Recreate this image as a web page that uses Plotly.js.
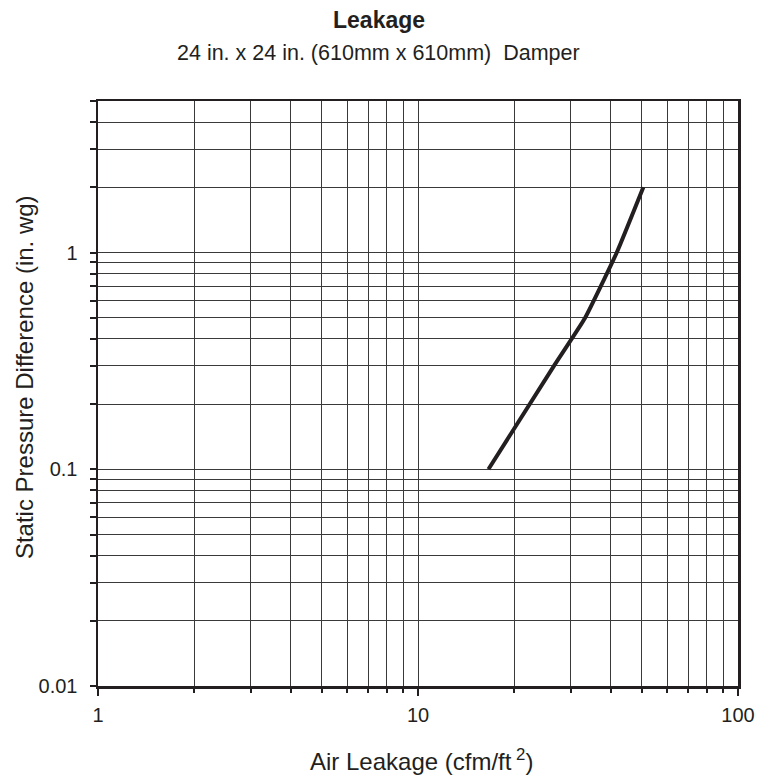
<!DOCTYPE html>
<html>
<head>
<meta charset="utf-8">
<script src="https://cdn.plot.ly/plotly-3.0.1.min.js"></script>
<style>html,body{margin:0;padding:0;background:#fff;}#chart{width:758px;height:781px;}</style>
</head>
<body>
<div id="chart"></div>
<script>
var leakage = [16.6, 26.6, 33.3, 41.8, 50.6];
var pressure = [0.1, 0.3, 0.5, 1.0, 2.0];

var xGrid = [1,2,3,4,5,6,7,8,9,10,20,30,40,50,60,70,80,90,100];
var xMajor = [1,10,100];
var xMajorText = ['1','10','100'];
var yGrid = [0.01,0.02,0.03,0.04,0.05,0.06,0.07,0.08,0.09,0.1,0.2,0.3,0.4,0.5,0.6,0.7,0.8,0.9,1,2,3,4,5];
var yLabels = {0.01:'0.01', 0.1:'0.1', 1:'1'};

var fontFam = 'Liberation Sans, Arial, sans-serif';
var ink = '#231f20';

var trace = {
  x: leakage, y: pressure, type: 'scatter', mode: 'lines',
  line: {color: ink, width: 4, shape: 'spline', smoothing: 0.4},
  showlegend: false, hoverinfo: 'skip'
};
var dummy = {x: [1,100], y: [0.01,0.01], xaxis: 'x2', yaxis: 'y', mode: 'markers',
  marker: {opacity: 0}, showlegend: false, hoverinfo: 'skip'};

var layout = {
  width: 758, height: 781,
  margin: {l: 98, r: 20, t: 101, b: 95},
  paper_bgcolor: '#fff', plot_bgcolor: '#fff',
  font: {family: fontFam, color: ink},
  xaxis: {
    type: 'log', range: [0, 2],
    tickvals: xGrid, ticktext: xGrid.map(function(){return '';}),
    ticks: 'outside', ticklen: 4, tickwidth: 2, tickcolor: ink,
    showgrid: true, gridcolor: '#3a3a3a', gridwidth: 1,
    showline: true, linecolor: ink, linewidth: 2.5, mirror: true,
    zeroline: false
  },
  xaxis2: {
    type: 'log', range: [0, 2], overlaying: 'x', side: 'bottom',
    tickvals: xMajor, ticktext: xMajorText,
    ticks: 'outside', ticklen: 9, tickwidth: 2, tickcolor: ink,
    ticklabelstandoff: 2,
    tickfont: {size: 20, family: fontFam, color: ink},
    showgrid: false, showline: false, zeroline: false
  },
  yaxis: {
    type: 'log', range: [-2, Math.log10(5)],
    tickvals: yGrid, ticktext: yGrid.map(function(v){return yLabels[v] || '';}),
    ticks: 'outside', ticklen: 6, tickwidth: 2, tickcolor: ink,
    ticklabelstandoff: 8,
    tickfont: {size: 20, family: fontFam, color: ink},
    showgrid: true, gridcolor: '#3a3a3a', gridwidth: 1,
    showline: true, linecolor: ink, linewidth: 2.5, mirror: true,
    zeroline: false
  },
  annotations: [
    {text: '<b>Leakage</b>', xref: 'paper', yref: 'paper', x: 0.439, y: 1, xanchor: 'center', yanchor: 'middle',
     yshift: 81, showarrow: false, font: {size: 23, family: fontFam, color: ink}},
    {text: '24 in. x 24 in. (610mm x 610mm)  Damper', xref: 'paper', yref: 'paper', x: 0.439, y: 1, xanchor: 'center', yanchor: 'middle',
     yshift: 48, showarrow: false, font: {size: 21.5, family: fontFam, color: ink}},
    {text: 'Air Leakage (cfm/ft<sup> 2</sup>)', xref: 'paper', yref: 'paper', x: 0.5, y: 0, xanchor: 'center', yanchor: 'middle',
     xshift: 3, yshift: -74, showarrow: false, font: {size: 24, family: fontFam, color: ink}},
    {text: 'Static Pressure Difference (in. wg)', xref: 'paper', yref: 'paper', x: 0, y: 0.528, xanchor: 'center', yanchor: 'middle',
     xshift: -74, textangle: -90, showarrow: false, font: {size: 24, family: fontFam, color: ink}}
  ]
};

Plotly.newPlot('chart', [trace, dummy], layout, {displayModeBar: false, staticPlot: true});
</script>
</body>
</html>
